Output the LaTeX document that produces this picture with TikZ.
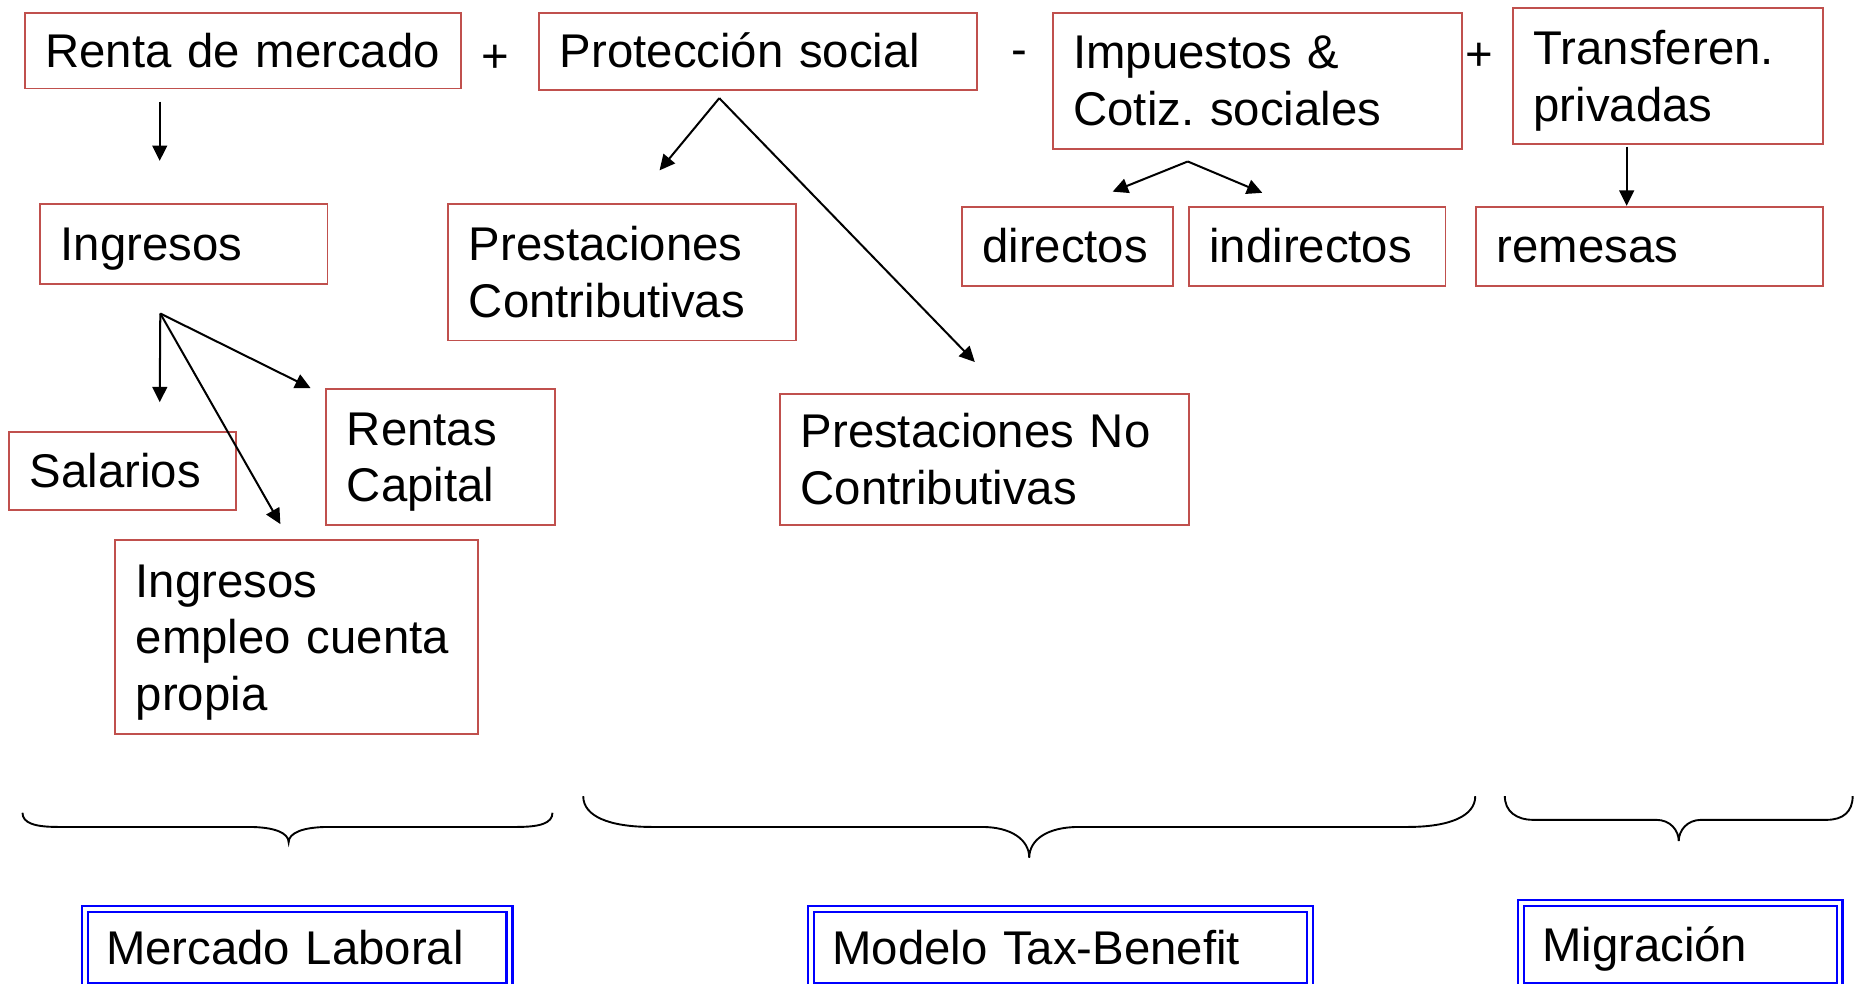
\documentclass[tikz,border=0pt]{standalone}
\usepackage{fontspec}
\setmainfont{Liberation Sans}
\usetikzlibrary{arrows.meta}
\definecolor{boxred}{RGB}{192,80,77}
\definecolor{dblue}{RGB}{0,0,255}
\newcommand\st{\rule[-10pt]{0pt}{48pt}}
\frenchspacing
\tikzset{
  bigfont/.style={font=\fontsize{40pt}{48pt}\selectfont\frenchspacing},
  box/.style={draw=boxred, line width=1.6pt, anchor=north west, inner xsep=17.5pt,
    inner ysep=0pt, align=left, bigfont,
    execute at begin node={\setlength{\parindent}{0pt}}},
  dbox/.style={draw=dblue, double=white, line width=2pt, double distance=3pt,
    anchor=north west, inner xsep=18pt, inner ysep=0pt, align=left, bigfont,
    execute at begin node={\setlength{\parindent}{0pt}}},
  sign/.style={anchor=base, inner sep=0pt, bigfont},
  arr/.style={-{Triangle[length=13pt,width=12.5pt]}, line width=1.7pt},
  brace/.style={line width=1.6pt}
}
\begin{document}
\begin{tikzpicture}[x=1pt,y=-1pt]
\useasboundingbox (0,0) rectangle (1568,831.76);

% top row
\node[box, text width=334pt, minimum height=64pt] (renta) at (20,10) {\st Renta de mercado};
\node[box, text width=335pt, minimum height=65pt] (prot) at (455,10) {\st Protección social};
\node[box, text width=311pt, minimum height=115pt] (imp) at (889,10) {\st Impuestos \&\\\st Cotiz. sociales};
\node[box, text width=227pt, minimum height=115pt] (transf) at (1278,6) {\st Transferen.\\\st privadas};

\node[sign] (p1) at (419,61) {+};
\node[sign] (m1) at (861.5,55) {-};
\node[sign] (p2) at (1250.5,60) {+};

% second row
\node[box, text width=208pt, minimum height=67pt] (ingr) at (33,172) {\st Ingresos};
\node[box, text width=259pt, minimum height=115pt] (prestc) at (378,172) {\st Prestaciones\\\st Contributivas};
\node[box, text width=144pt, minimum height=67pt] (dir) at (812,174) {\st directos};
\node[box, text width=182pt, minimum height=67pt] (indir) at (1004,174) {\st indirectos};
\node[box, text width=258pt, minimum height=67pt] (rem) at (1247,174) {\st remesas};

% lower boxes
\node[box, text width=157pt, minimum height=66pt] (sal) at (7,364) {\st Salarios};
\node[box, text width=158pt, minimum height=115pt] (rent) at (275,328) {\st Rentas\\\st Capital};
\node[box, text width=272pt, minimum height=164pt] (prop) at (96.5,456) {\st Ingresos\\\st empleo cuenta\\\st propia};
\node[box, text width=310.5pt, minimum height=111pt] (prestnc) at (658.5,332) {\st Prestaciones No\\\st Contributivas};

% arrows
\coordinate (r0) at (135,86);
\coordinate (r1) at (135,136);
\draw[arr] (r0) -- (r1);

\coordinate (pa) at (608,83);
\coordinate (pl) at (557.5,144);
\coordinate (pr) at (824,306);
\draw[arr] (pa) -- (pl);
\draw[arr] (pa) -- (pr);

\coordinate (ia) at (1004,136.5);
\coordinate (il) at (940.5,162);
\coordinate (ir) at (1067,163);
\draw[arr] (ia) -- (il);
\draw[arr] (ia) -- (ir);

\coordinate (t0) at (1375,124);
\draw[arr] (t0) -- (rem.north -| t0);

\coordinate (ga) at (135.5,265);
\coordinate (gd) at (135,340);
\coordinate (gr) at (262.5,328);
\coordinate (gl) at (237,443);
\draw[arr] (ga) -- (gd);
\draw[arr] (ga) -- (gr);
\draw[arr] (ga) -- (gl);

% braces
\draw[brace] (19,687) .. controls (19,696) and (30,699) .. (49,699) -- (210,699)
  .. controls (232,699) and (244,704) .. (244,712)
  .. controls (244,704) and (256,699) .. (278,699) -- (437,699)
  .. controls (456,699) and (467,696) .. (467,687);
\draw[brace] (493,673) .. controls (493,690) and (515,699) .. (551,699) -- (830,699)
  .. controls (855,699) and (870,710) .. (870,725)
  .. controls (870,710) and (885,699) .. (912,699) -- (1190,699)
  .. controls (1225,699) and (1247,690) .. (1247,673);
\draw[brace] (1272,673) .. controls (1272,686) and (1282,693) .. (1296,693) -- (1400,693)
  .. controls (1412,693) and (1419,702) .. (1419,711)
  .. controls (1419,702) and (1426,693) .. (1438,693) -- (1544,693)
  .. controls (1558,693) and (1566,686) .. (1566,673);

% bottom labels
\node[dbox, text width=323pt, minimum height=65pt] (ml) at (70.7,767.5) {\st Mercado Laboral};
\node[dbox, text width=386pt, minimum height=65pt] (mtb) at (684.5,767.5) {\st Modelo Tax-Benefit};
\node[dbox, text width=233.5pt, minimum height=70pt] (mig) at (1284.5,762.5) {\st Migración};
\end{tikzpicture}
\end{document}
